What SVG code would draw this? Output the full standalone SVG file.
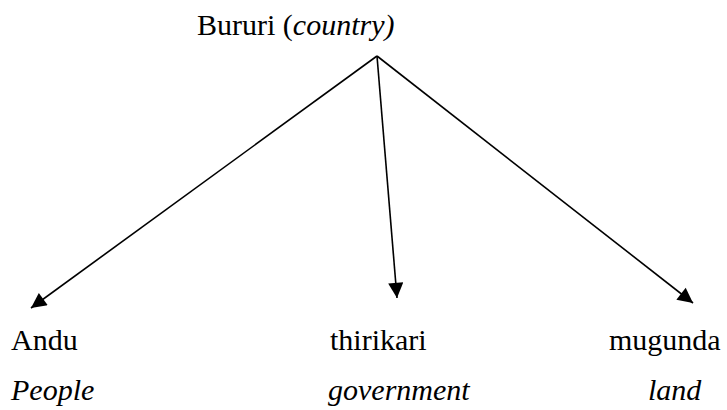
<svg xmlns="http://www.w3.org/2000/svg" width="727" height="410" viewBox="0 0 727 410">
  <style>
    text { font-family: "Times New Roman", "Liberation Serif", "Noto Serif", serif; font-size: 30px; fill: #000; }
    .it { font-style: italic; }
    .edge { stroke: #000; stroke-width: 1.6; fill: none; marker-end: url(#head); }
  </style>
  <defs>
    <marker id="head" viewBox="0 0 10 10" refX="10" refY="5" markerWidth="11" markerHeight="9.5" markerUnits="strokeWidth" orient="auto">
      <path d="M0,0 L10,5 L0,10 Z" fill="#000"/>
    </marker>
  </defs>
  <rect width="727" height="410" fill="#fff"/>

  <g id="root">
    <text x="197" y="35">Bururi (<tspan class="it">country)</tspan></text>
  </g>

  <g id="connectors">
    <line class="edge" x1="377" y1="56" x2="31" y2="308"/>
    <line class="edge" x1="377" y1="56" x2="397" y2="298"/>
    <line class="edge" x1="377" y1="56" x2="693" y2="303"/>
  </g>

  <g id="andu">
    <text x="11" y="350">Andu</text>
    <text class="it" x="11" y="400">People</text>
  </g>
  <g id="thirikari">
    <text x="330" y="350">thirikari</text>
    <text class="it" x="328" y="400">government</text>
  </g>
  <g id="mugunda">
    <text x="609" y="350">mugunda</text>
    <text class="it" x="648" y="400">land</text>
  </g>
</svg>
